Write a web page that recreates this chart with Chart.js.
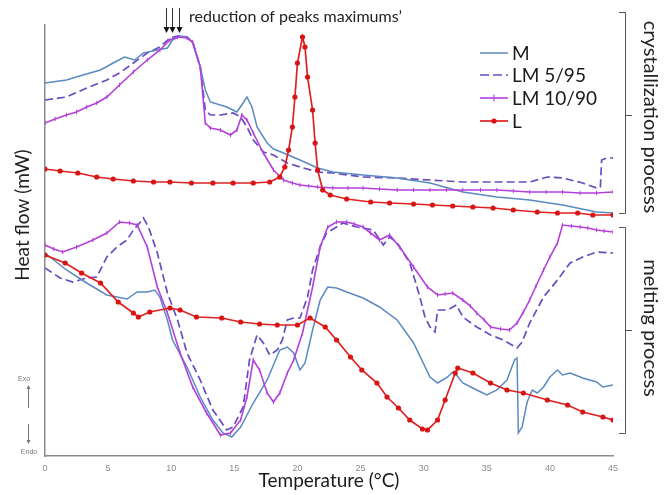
<!DOCTYPE html>
<html><head><meta charset="utf-8">
<script src="https://cdn.jsdelivr.net/npm/chart.js@4/dist/chart.umd.min.js"></script>
<style>html,body{margin:0;padding:0;background:#fff;}canvas{display:block;}</style>
</head><body>
<canvas id="c" width="667" height="495"></canvas>
<script>
// ---- data (temperature °C, heat flow arbitrary mW units) ----
const seriesNames = ['M', 'LM 5/95', 'LM 10/90', 'L'];
const xTickValues = [0, 5, 10, 15, 20, 25, 30, 35, 40, 45];
const peakArrowTemps = [9.6, 10.1, 10.6];

const mCryst = [[0,37.3],[1.7,37.6],[3.0,38.1],[4.4,38.6],[5.4,39.3],[6.3,39.9],[7.1,39.6],[7.8,40.3],[8.9,40.6],[9.7,40.8],[10.1,41.6],[10.7,42.0],[11.25,41.9],[11.7,41.3],[12.3,38.9],[12.7,36.6],[13.1,35.4],[14.4,34.9],[15.2,34.4],[15.7,35.3],[16.0,35.9],[16.4,34.9],[16.8,32.9],[17.6,31.3],[18.1,30.7],[18.9,30.3],[20.2,29.6],[21.6,28.8],[22.8,28.4],[25.2,28.1],[27.9,27.8],[30.5,27.3],[33.1,26.4],[35.8,25.9],[38.4,25.6],[41.0,25.1],[43.7,24.4],[45,24.3]];
const lm5Cryst = [[0,35.6],[1.7,35.9],[3.3,36.8],[4.9,37.6],[5.9,38.3],[7.0,39.3],[8.1,40.3],[9.1,40.9],[9.9,41.8],[10.5,42.0],[11.25,41.9],[11.7,41.4],[12.3,38.9],[12.7,34.6],[13.1,34.1],[13.9,34.1],[14.9,34.3],[15.5,33.9],[16.0,32.9],[16.5,31.6],[17.3,30.4],[18.1,30.1],[19.2,29.3],[20.2,28.9],[21.6,28.4],[22.8,28.3],[25.2,27.9],[27.9,27.8],[30.5,27.6],[33.1,27.4],[35.8,27.4],[38.4,27.4],[39.8,27.9],[41.0,27.8],[42.6,27.3],[43.7,26.8],[44.0,26.9],[44.1,29.6],[44.5,29.8],[45,29.8]];
const lm10Cryst = [[0,33.3],[0.8,33.7],[1.7,34.1],[2.5,34.4],[3.3,34.9],[4.1,35.3],[4.9,35.9],[5.9,37.1],[7.0,38.4],[8.1,39.6],[9.1,40.6],[9.9,41.6],[10.5,41.9],[11.25,41.8],[11.7,41.4],[12.3,38.9],[12.7,33.3],[13.1,32.8],[13.9,32.6],[14.7,32.1],[15.2,32.6],[15.6,34.1],[16.0,33.6],[16.5,32.3],[17.3,30.3],[18.1,28.6],[18.9,27.6],[19.6,27.3],[20.2,27.1],[20.9,27.0],[21.6,26.9],[22.8,26.8],[24.0,26.8],[25.2,26.8],[26.5,26.7],[27.9,26.6],[29.2,26.6],[30.5,26.6],[31.8,26.6],[33.1,26.6],[34.5,26.6],[35.8,26.6],[37.1,26.5],[38.4,26.4],[39.7,26.4],[41.0,26.4],[42.4,26.3],[43.7,26.3],[45,26.4]];
const lCryst = [[0,28.7],[1.2,28.5],[2.6,28.3],[4.1,27.9],[5.4,27.7],[7.0,27.5],[8.6,27.4],[9.9,27.4],[11.6,27.3],[13.3,27.3],[14.9,27.3],[16.5,27.3],[17.8,27.4],[18.6,27.9],[19.0,28.9],[19.3,30.6],[19.6,32.9],[19.8,35.9],[20.0,39.3],[20.4,41.9],[20.6,40.9],[20.8,37.9],[21.2,34.6],[21.4,31.3],[21.6,28.6],[22.0,26.6],[22.6,26.1],[23.9,25.7],[25.8,25.4],[27.3,25.3],[29.2,25.2],[30.7,25.1],[32.3,25.0],[33.9,24.9],[35.5,24.8],[37.1,24.6],[39.0,24.4],[40.6,24.3],[42.2,24.3],[43.4,24.1],[45,24.1]];

const mMelt = [[0,20.3],[1.7,18.6],[3.3,17.3],[4.9,16.1],[6.5,15.7],[7.3,16.4],[8.1,16.4],[8.7,16.6],[9.1,15.9],[9.7,13.6],[10.1,11.6],[11.25,8.9],[12.3,5.9],[13.3,3.6],[14.1,2.3],[14.8,1.9],[15.5,2.9],[16.5,5.3],[17.6,7.6],[18.6,10.6],[19.2,10.9],[19.7,10.3],[20.2,8.6],[20.6,9.3],[21.2,12.6],[21.8,15.6],[22.4,16.9],[23.1,16.8],[23.9,16.4],[25.2,15.8],[26.5,14.9],[27.9,13.6],[29.2,11.3],[30.5,7.9],[31.1,7.3],[31.9,7.9],[32.3,8.4],[32.6,8.1],[33.1,7.3],[34.2,6.6],[35.0,6.1],[35.8,6.6],[36.6,7.6],[37.2,9.6],[37.4,9.8],[37.5,2.3],[37.8,2.9],[38.2,5.4],[38.6,6.6],[39.0,6.3],[39.5,6.9],[40.0,7.9],[40.6,8.6],[41.0,8.1],[41.6,8.3],[42.6,7.8],[43.7,7.4],[44.2,6.9],[45,7.1]];
const lm5Melt = [[0,18.8],[1.2,17.8],[2.2,17.4],[3.3,17.8],[4.1,17.9],[4.9,19.9],[5.7,20.9],[6.5,21.6],[7.0,22.6],[7.5,23.3],[7.8,23.8],[8.2,22.9],[8.9,20.3],[9.7,16.3],[10.5,13.6],[11.25,10.3],[12.3,7.6],[13.3,4.6],[14.4,2.6],[14.9,2.9],[15.7,4.9],[16.2,9.6],[16.8,12.1],[17.3,11.3],[17.8,10.1],[18.4,10.6],[18.8,11.6],[19.2,13.6],[19.7,13.8],[20.2,13.8],[20.8,15.9],[21.2,18.6],[21.8,20.9],[22.3,22.3],[23.1,22.9],[23.6,23.3],[24.7,22.9],[26.0,22.6],[26.8,21.1],[27.3,21.9],[27.9,21.3],[28.9,19.3],[29.7,15.9],[30.1,13.9],[30.5,12.9],[30.9,12.4],[31.1,14.6],[31.9,14.6],[32.6,15.1],[33.1,13.9],[34.2,12.9],[35.3,12.1],[36.3,11.6],[37.4,10.8],[37.8,11.4],[38.4,13.3],[39.5,15.9],[40.6,17.6],[41.6,19.3],[42.6,19.9],[43.7,20.4],[45,20.3]];
const lm10Melt = [[0,21.1],[0.7,20.7],[1.4,20.4],[2.5,20.9],[3.8,21.6],[4.9,22.3],[5.9,23.4],[6.7,23.3],[7.3,23.1],[8.1,20.9],[8.9,16.9],[9.7,14.3],[10.7,10.3],[11.7,6.9],[12.8,4.3],[13.9,2.1],[14.7,2.3],[15.5,3.6],[16.0,5.9],[16.5,9.6],[17.0,8.6],[17.6,6.3],[18.1,5.4],[18.6,6.3],[19.2,8.3],[19.7,9.6],[20.4,12.3],[21.2,16.9],[21.8,20.9],[22.4,22.9],[23.1,23.4],[23.9,23.4],[24.5,23.2],[25.2,22.9],[25.8,22.3],[26.5,21.6],[27.3,22.1],[28.1,20.9],[29.2,18.9],[30.3,16.9],[31.1,16.1],[31.7,16.2],[32.3,16.3],[33.1,15.6],[33.7,15.0],[34.2,14.3],[34.8,13.6],[35.3,12.9],[36.1,12.7],[36.8,12.6],[37.4,13.3],[37.9,14.4],[38.4,15.6],[38.9,17.0],[39.5,18.6],[40.0,19.9],[40.6,21.3],[41.0,23.1],[41.7,23.0],[42.4,22.9],[43.0,22.8],[43.7,22.6],[44.3,22.5],[45,22.4]];
const lMelt = [[0,20.1],[1.6,19.3],[2.9,18.3],[4.4,17.3],[5.8,15.4],[7.0,14.3],[7.4,13.9],[8.3,14.4],[9.9,14.8],[10.7,14.6],[12.0,13.9],[14.0,13.8],[15.5,13.4],[17.0,13.2],[18.4,13.1],[20.0,13.1],[21.0,13.8],[22.2,12.9],[23.1,11.6],[24.2,9.9],[25.1,8.6],[26.3,7.3],[27.1,5.9],[28.0,4.8],[28.9,3.6],[29.9,2.7],[30.3,2.6],[31.1,3.6],[31.7,5.6],[32.5,8.3],[32.7,8.8],[33.9,8.3],[35.3,7.3],[36.6,6.6],[37.9,6.3],[39.8,5.6],[41.4,5.1],[42.6,4.4],[44.2,3.9],[45,3.6]];

// ---- styles ----
const styles = {
  'M':        {color:'#5a8abf', dash:[],    point:false,  width:1.5},
  'LM 5/95':  {color:'#6a4cc2', dash:[8,4], point:false,  width:1.7},
  'LM 10/90': {color:'#b440dc', dash:[],    point:'line', width:1.6},
  'L':        {color:'#df2121', dash:[],    point:'circle', width:1.7}
};
const segments = {
  'M': [mCryst, mMelt], 'LM 5/95': [lm5Cryst, lm5Melt],
  'LM 10/90': [lm10Cryst, lm10Melt], 'L': [lCryst, lMelt]
};
const drawOrder = {'M':2, 'LM 5/95':3, 'LM 10/90':1, 'L':0};

const toXY = arr => arr.map(p => ({x:p[0], y:p[1]}));
const datasets = [];
seriesNames.forEach(name => {
  const s = styles[name];
  segments[name].forEach(seg => {
    datasets.push({
      label: name,
      data: toXY(seg),
      borderColor: s.color,
      backgroundColor: s.color,
      borderWidth: s.width,
      borderDash: s.dash,
      pointRadius: s.point ? (s.point === 'circle' ? 2.6 : 2.2) : 0,
      pointStyle: s.point === 'line' ? 'line' : 'circle',
      pointRotation: s.point === 'line' ? 90 : 0,
      pointBorderWidth: s.point === 'line' ? 1 : 0,
      pointBackgroundColor: s.point === 'circle' ? '#d81515' : s.color,
      pointBorderColor: s.color,
      tension: 0,
      fill: false,
      order: drawOrder[name]
    });
  });
});

const FONT = 'Lato, "Open Sans", sans-serif';

const decor = {
  id: 'decor',
  afterDraw(chart) {
    const ctx = chart.ctx;
    const xs = chart.scales.x;
    ctx.save();
    // y-axis title
    ctx.fillStyle = '#222';
    ctx.font = '19px ' + FONT;
    ctx.textAlign = 'center';
    ctx.textBaseline = 'middle';
    ctx.save(); ctx.translate(23, 215); ctx.rotate(-Math.PI/2);
    ctx.fillText('Heat flow (mW)', 0, 0); ctx.restore();

    // Exo / Endo
    ctx.fillStyle = '#777'; ctx.strokeStyle = '#777'; ctx.lineWidth = 1;
    ctx.font = '7px "Liberation Sans", sans-serif';
    ctx.fillText('Exo', 24, 379);
    ctx.fillText('Endo', 29, 452);
    ctx.beginPath(); ctx.moveTo(28.5, 408); ctx.lineTo(28.5, 387); ctx.stroke();
    ctx.beginPath(); ctx.moveTo(26.5, 389); ctx.lineTo(28.5, 385); ctx.lineTo(30.5, 389); ctx.fill();
    ctx.beginPath(); ctx.moveTo(28.5, 424); ctx.lineTo(28.5, 442); ctx.stroke();
    ctx.beginPath(); ctx.moveTo(26.5, 440); ctx.lineTo(28.5, 444); ctx.lineTo(30.5, 440); ctx.fill();

    // peak arrows + annotation
    ctx.strokeStyle = '#333'; ctx.fillStyle = '#111'; ctx.lineWidth = 1;
    peakArrowTemps.forEach(t => {
      const px = Math.round(xs.getPixelForValue(t)) + 0.5;
      ctx.beginPath(); ctx.moveTo(px, 8); ctx.lineTo(px, 28); ctx.stroke();
      ctx.beginPath(); ctx.moveTo(px - 3, 27); ctx.lineTo(px + 3, 27); ctx.lineTo(px, 33); ctx.closePath(); ctx.fill();
    });
    ctx.fillStyle = '#222';
    ctx.font = '16px ' + FONT;
    ctx.textAlign = 'left';
    ctx.fillText('reduction of peaks maximums\u2019', 189, 17);

    // brackets
    ctx.strokeStyle = '#555'; ctx.lineWidth = 1;
    const bracket = (t, b, m) => {
      ctx.beginPath(); ctx.moveTo(619, t + 0.5); ctx.lineTo(625.5, t + 0.5); ctx.lineTo(625.5, b + 0.5); ctx.lineTo(619, b + 0.5); ctx.stroke();
      ctx.beginPath(); ctx.moveTo(625.5, m + 0.5); ctx.lineTo(632, m + 0.5); ctx.stroke();
    };
    bracket(12, 213, 115);
    bracket(227, 433, 330);
    ctx.fillStyle = '#222';
    ctx.font = '20px ' + FONT;
    ctx.textAlign = 'center';
    ctx.save(); ctx.translate(650, 117); ctx.rotate(Math.PI/2);
    ctx.fillText('crystallization process', 0, 0); ctx.restore();
    ctx.save(); ctx.translate(650, 328); ctx.rotate(Math.PI/2);
    ctx.fillText('melting process', 0, 0); ctx.restore();

    // legend
    const rows = [53, 75, 98, 121];
    ctx.font = '19px ' + FONT;
    ctx.textAlign = 'left';
    seriesNames.forEach((name, i) => {
      const s = styles[name], y = rows[i];
      ctx.strokeStyle = s.color; ctx.lineWidth = s.width;
      ctx.setLineDash(s.dash.length ? [9, 4] : []);
      ctx.beginPath(); ctx.moveTo(480, y); ctx.lineTo(508, y); ctx.stroke();
      ctx.setLineDash([]);
      if (s.point === 'line') {
        ctx.lineWidth = 1.1;
        ctx.beginPath(); ctx.moveTo(494, y - 3.5); ctx.lineTo(494, y + 3.5); ctx.stroke();
      } else if (s.point === 'circle') {
        ctx.fillStyle = '#d81515';
        ctx.beginPath(); ctx.arc(494, y, 2.6, 0, Math.PI*2); ctx.fill();
      }
      ctx.fillStyle = '#1a1a1a';
      ctx.fillText(name, 512, y + 1);
    });
    ctx.restore();
  }
};

new Chart(document.getElementById('c'), {
  type: 'line',
  data: { datasets },
  options: {
    responsive: false,
    animation: false,
    events: [],
    layout: { padding: { top: 25, right: 54, bottom: 0, left: 0 } },
    plugins: { legend: { display: false }, tooltip: { enabled: false } },
    scales: {
      x: {
        type: 'linear', min: 0, max: 45,
        afterBuildTicks: axis => { axis.ticks = xTickValues.map(v => ({ value: v })); },
        ticks: { color: '#8a8a8a', font: { size: 9, family: '"Liberation Sans", sans-serif' }, padding: 7, maxRotation: 0 },
        grid: { display: false, drawTicks: false },
        border: { display: true, color: '#8a8a8a', width: 1.5 },
        title: { display: true, text: 'Temperature (°C)', color: '#1a1a1a', font: { size: 19, family: FONT }, padding: { top: 0, bottom: 3 } },
        afterFit: axis => { axis.height = 39; }
      },
      y: {
        type: 'linear', min: 0, max: 43.1,
        ticks: { display: false },
        grid: { display: false, drawTicks: false },
        border: { display: true, color: '#8a8a8a', width: 1.5 },
        afterFit: axis => { axis.width = 45; }
      }
    }
  },
  plugins: [decor]
});
</script>
</body></html>
